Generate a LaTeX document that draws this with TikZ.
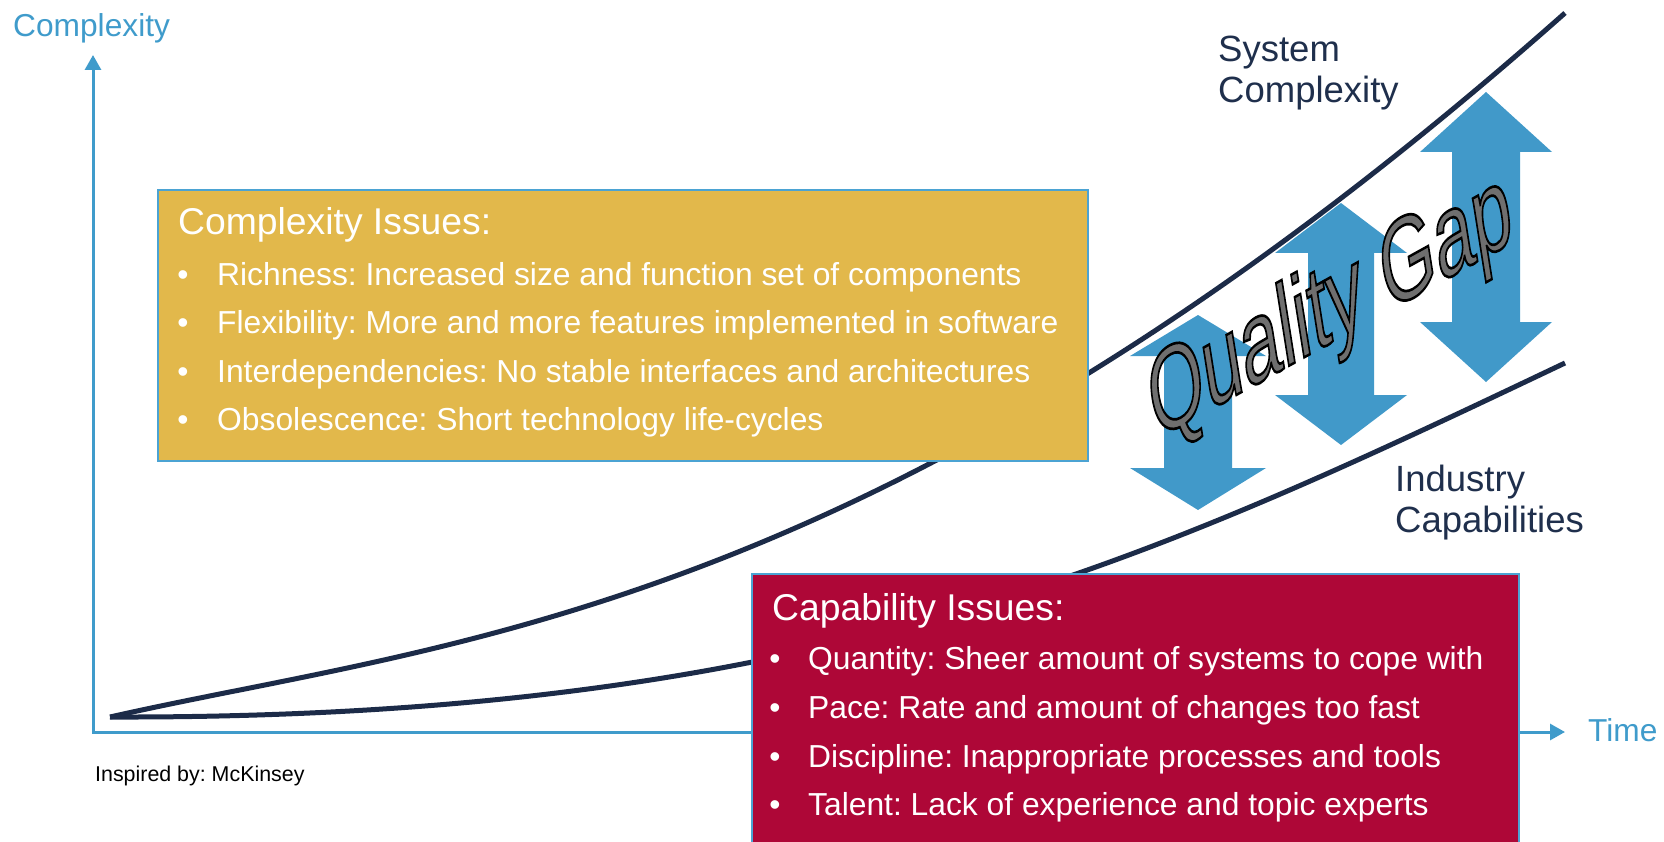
\documentclass[tikz,border=0pt]{standalone}
\usepackage{fontspec}
\setmainfont{Liberation Sans}
\usetikzlibrary{arrows.meta}
\frenchspacing

\definecolor{axisblue}{HTML}{3F9BCB}
\definecolor{gapblue}{HTML}{4199C9}
\definecolor{curvenavy}{HTML}{1C2B48}
\definecolor{labelnavy}{HTML}{1F2F4C}
\definecolor{issueyellow}{HTML}{E2B84B}
\definecolor{issuered}{HTML}{AE0737}
\definecolor{boxline}{HTML}{4BA3D3}
\definecolor{gapgray}{HTML}{6F6F6F}

% gray letters with a black outline (fill and stroke text)
\newcommand{\outlinetext}[1]{\special{pdf:literal direct 0 G 2 Tr 0.9 w}#1\special{pdf:literal direct 0 Tr}}

\tikzset{
  axis/.style={line width=3pt, axisblue, {Triangle[length=15pt,width=16pt]}-{Triangle[length=15pt,width=16pt]}},
  curve/.style={line width=5pt, curvenavy},
  issuebox/.style={draw=boxline, line width=2pt, anchor=north west, inner sep=0pt},
  heading/.style={anchor=base west, inner sep=0pt, text=white, font=\fontsize{37.3}{44}\selectfont},
  item/.style={anchor=base west, inner sep=0pt, text=white, font=\fontsize{31.8}{38}\selectfont},
  dot/.style={anchor=base, inner sep=0pt, text=white, font=\fontsize{31.8}{38}\selectfont},
  curvelabel/.style={anchor=base west, inner sep=0pt, text=labelnavy, font=\fontsize{36.5}{41}\selectfont},
  axislabel/.style={anchor=base west, inner sep=0pt, text=axisblue, font=\fontsize{31.7}{38}\selectfont},
  gaparrow/.style={fill=gapblue},
  gaptext/.style={anchor=base west, inner sep=0pt, text=gapgray, font=\fontsize{40}{48}\selectfont},
}

\begin{document}
\begin{tikzpicture}[x=1pt, y=-1pt]
\useasboundingbox (0,0) rectangle (1664,842);
% axes
\coordinate (ytop) at (93,55);
\coordinate (origin) at (93,732);
\coordinate (xend) at (1565,732);
\draw[axis] (ytop) -- (origin) -- (xend);
\node[axislabel] (ylabel) at (13,37) {Complexity};
\node[axislabel] (xlabel) at (1588,741) {Time};
% the two curves
\coordinate (start) at (110,717);
\draw[curve] (start) .. controls (450,640) and (880,620) .. (1565,13);
\draw[curve] (start) .. controls (820,719) and (1150,560) .. (1565,363);
\node[curvelabel] (syslab1) at (1218,62) {System};
\node[curvelabel] (syslab2) at (1218,103) {Complexity};
\node[curvelabel] (indlab1) at (1395,491) {Industry};
\node[curvelabel] (indlab2) at (1395,532) {Capabilities};
% gap arrows
\fill[gaparrow] (1198,315) -- (1266,356) -- (1232,356) -- (1232,468) -- (1266,468) -- (1198,510)
  -- (1130,468) -- (1164,468) -- (1164,356) -- (1130,356) -- cycle;
\fill[gaparrow] (1341,203) -- (1407,253) -- (1374,253) -- (1374,395) -- (1407,395) -- (1341,445)
  -- (1275,395) -- (1308,395) -- (1308,253) -- (1275,253) -- cycle;
\fill[gaparrow] (1486,92) -- (1552,152) -- (1520,152) -- (1520,322) -- (1552,322) -- (1486,382)
  -- (1420,322) -- (1452,322) -- (1452,152) -- (1420,152) -- cycle;
% complexity issues
\node[issuebox, fill=issueyellow, minimum width=930pt, minimum height=271pt] (cxbox) at (157,189) {};
\node[heading] (cxhead) at (178,235) {Complexity Issues:};
\foreach \y/\txt [count=\i] in {285/{Richness: Increased size and function set of components},
    333/{Flexibility: More and more features implemented in software},
    382/{Interdependencies: No stable interfaces and architectures},
    430/{Obsolescence: Short technology life-cycles}} {
  \node[dot] (cxdot\i) at (183,\y) {\textbullet};
  \node[item] (cxitem\i) at (217,\y) {\txt};
}
% capability issues
\node[issuebox, fill=issuered, minimum width=767pt, minimum height=280pt] (cpbox) at (751,573) {};
\node[heading] (cphead) at (772,620) {Capability Issues:};
\foreach \y/\txt [count=\i] in {669/{Quantity: Sheer amount of systems to cope with},
    718/{Pace: Rate and amount of changes too fast},
    767/{Discipline: Inappropriate processes and tools},
    815/{Talent: Lack of experience and topic experts}} {
  \node[dot] (cpdot\i) at (775,\y) {\textbullet};
  \node[item] (cpitem\i) at (808,\y) {\txt};
}
% quality gap
\begin{scope}[shift={(1155,440)}, cm={1.706,0.945,-0.45,2.85,(0,0)}, transform shape]
  \node[gaptext] (gap) at (0pt,0pt) {\outlinetext{Quality Gap}};
\end{scope}
%
\node[anchor=base west, inner sep=0pt, font=\fontsize{21.4}{26}\selectfont] (source) at (95,781) {Inspired by: McKinsey};
\end{tikzpicture}
\end{document}
